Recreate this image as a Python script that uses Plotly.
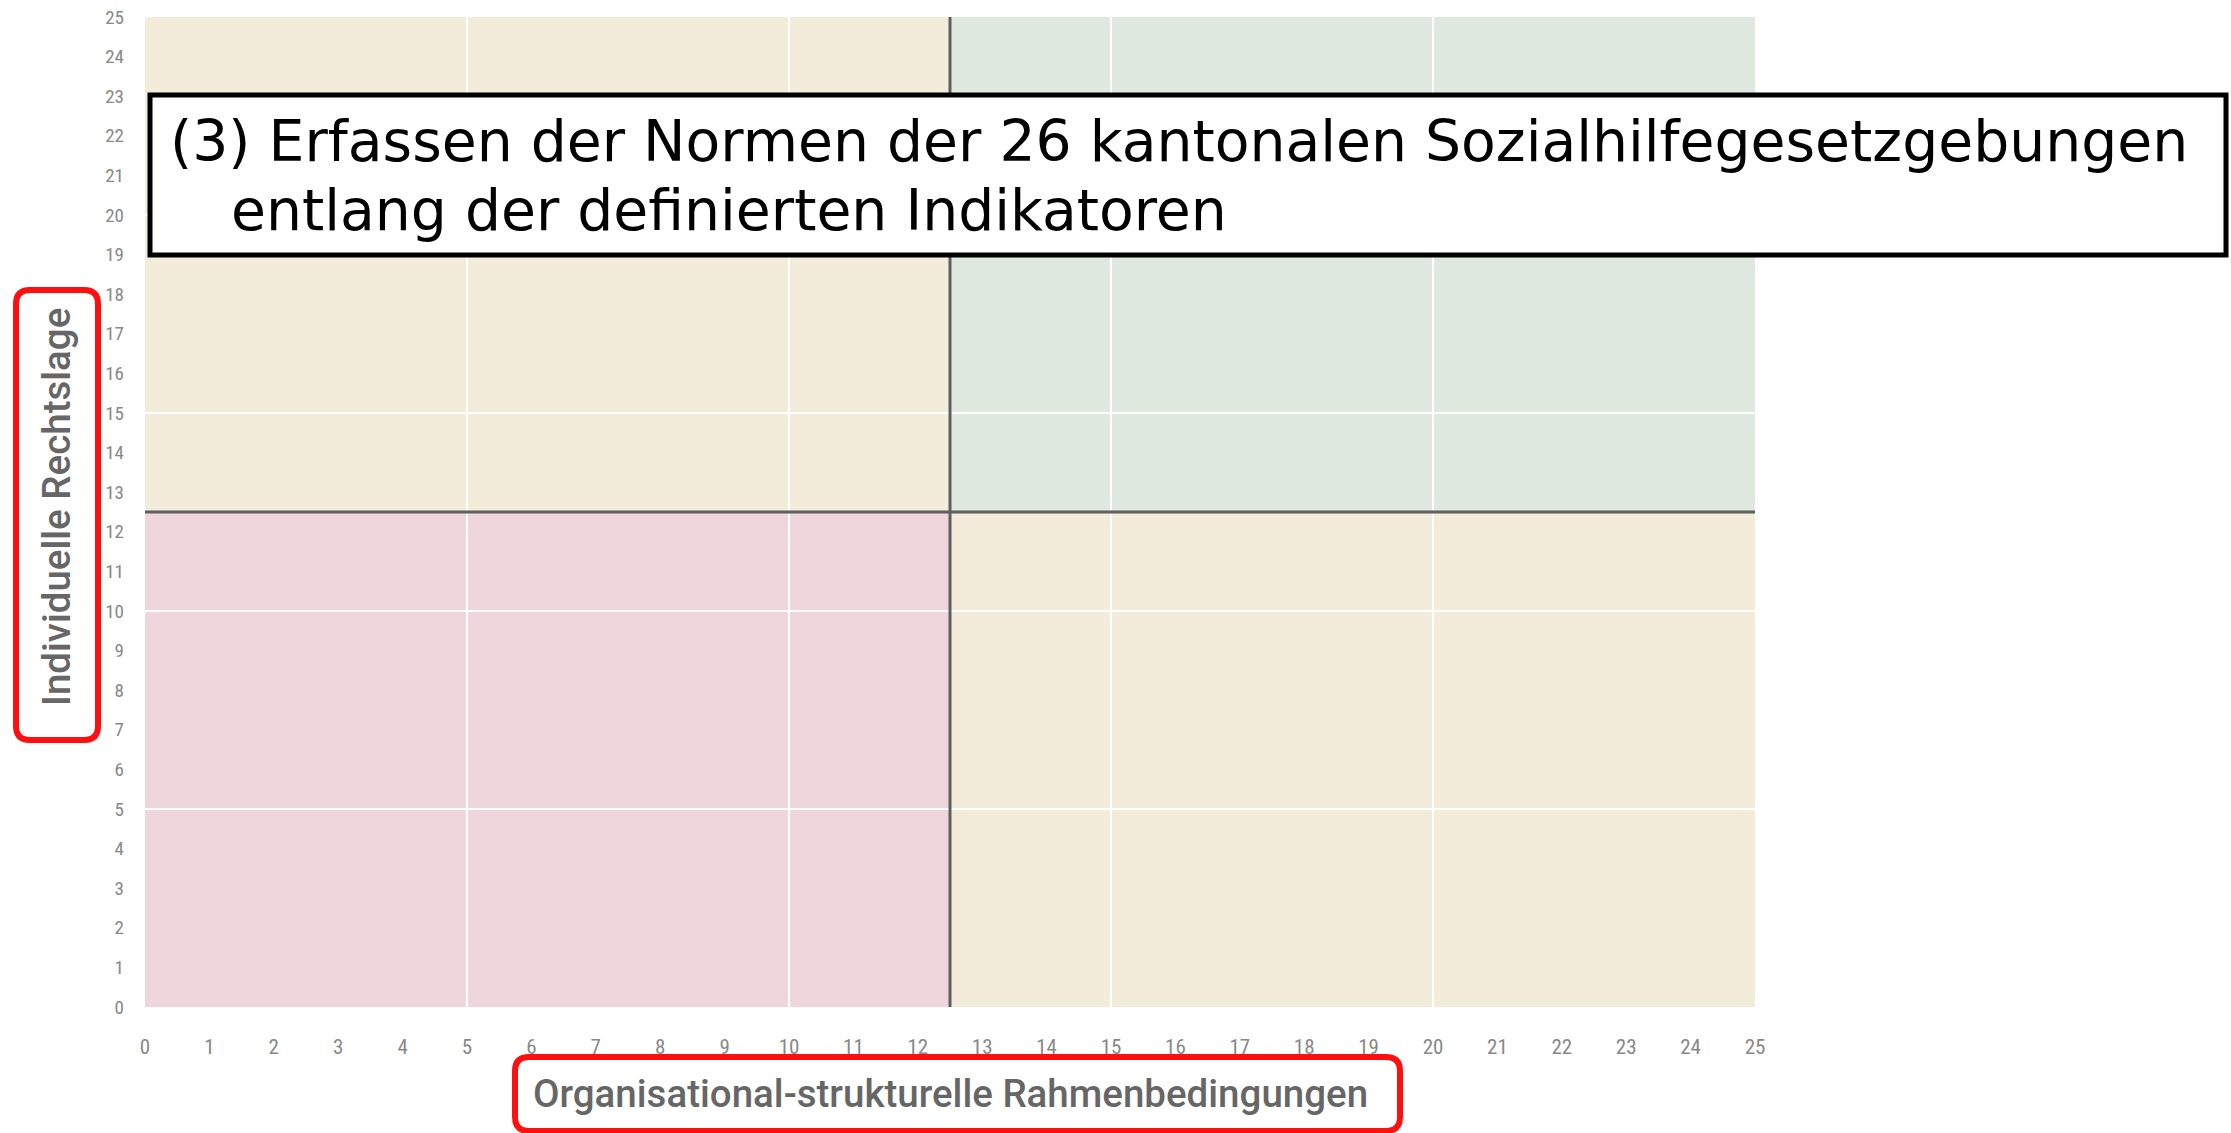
import plotly.graph_objects as go

# ---- data ----
x_ticks = list(range(0, 26))
y_ticks = list(range(0, 26))
grid_values = [5, 10, 15, 20]
axis_min = 0
axis_max = 25
split = 12.5
quadrants = [  # (x0, x1, y0, y1, color)
    (0, 12.5, 12.5, 25, "#F4ECDA"),
    (12.5, 25, 12.5, 25, "#DFE9DF"),
    (0, 12.5, 0, 12.5, "#EED6DC"),
    (12.5, 25, 0, 12.5, "#F4ECDA"),
]
title_line1 = "(3) Erfassen der Normen der 26 kantonalen Sozialhilfegesetzgebungen"
title_line2 = "entlang der definierten Indikatoren"
x_title = "Organisational-strukturelle Rahmenbedingungen"
y_title = "Individuelle Rechtslage"

# ---- layout geometry (page pixels; body margin is removed) ----
PAGE_W, PAGE_H = 2231, 1133
PLOT_L, PLOT_R, PLOT_T, PLOT_B = 145, 1755, 17, 1007
W, H = PAGE_W, PAGE_H
L, T = PLOT_L, PLOT_T
R, B = PAGE_W - PLOT_R, PAGE_H - PLOT_B
PW, PH = PLOT_R - PLOT_L, PLOT_B - PLOT_T


def px(x):
    return (x - PLOT_L) / PW


def py(y):
    return (PLOT_B - y) / PH


def rounded_rect(x0, y0, x1, y1, r):
    pts = [
        f"M {px(x0 + r)},{py(y0)}",
        f"L {px(x1 - r)},{py(y0)}",
        f"Q {px(x1)},{py(y0)} {px(x1)},{py(y0 + r)}",
        f"L {px(x1)},{py(y1 - r)}",
        f"Q {px(x1)},{py(y1)} {px(x1 - r)},{py(y1)}",
        f"L {px(x0 + r)},{py(y1)}",
        f"Q {px(x0)},{py(y1)} {px(x0)},{py(y1 - r)}",
        f"L {px(x0)},{py(y0 + r)}",
        f"Q {px(x0)},{py(y0)} {px(x0 + r)},{py(y0)}",
        "Z",
    ]
    return " ".join(pts)


fig = go.Figure()
fig.add_trace(go.Scatter(x=[axis_min, axis_max], y=[axis_min, axis_max], mode="markers",
                         marker=dict(opacity=0), hoverinfo="skip", showlegend=False))

shapes = []
for x0, x1, y0, y1, c in quadrants:
    shapes.append(dict(type="rect", xref="x", yref="y", x0=x0, x1=x1, y0=y0, y1=y1,
                       fillcolor=c, line=dict(width=0), layer="below"))
for g in grid_values:
    shapes.append(dict(type="line", xref="x", yref="y", x0=g, x1=g, y0=axis_min, y1=axis_max,
                       line=dict(color="white", width=2), layer="below"))
    shapes.append(dict(type="line", xref="x", yref="y", x0=axis_min, x1=axis_max, y0=g, y1=g,
                       line=dict(color="white", width=2), layer="below"))
shapes.append(dict(type="line", xref="x", yref="y", x0=split, x1=split, y0=axis_min, y1=axis_max,
                   line=dict(color="#5f5f5f", width=3), layer="above"))
shapes.append(dict(type="line", xref="x", yref="y", x0=axis_min, x1=axis_max, y0=split, y1=split,
                   line=dict(color="#5f5f5f", width=3), layer="above"))

# title box
shapes.append(dict(type="rect", xref="paper", yref="paper", x0=px(150), x1=px(2226), y0=py(95), y1=py(255),
                   fillcolor="white", line=dict(color="black", width=5), layer="above"))
# red axis-title boxes
shapes.append(dict(type="path", xref="paper", yref="paper", path=rounded_rect(515, 1057, 1400, 1131, 14),
                   line=dict(color="#FF1010", width=6), fillcolor="white", layer="above"))
shapes.append(dict(type="path", xref="paper", yref="paper", path=rounded_rect(16, 290, 98, 740, 14),
                   line=dict(color="#FF1010", width=6), fillcolor="white", layer="above"))

title_font = dict(family="DejaVu Sans, Open Sans, sans-serif", size=56.8, color="black")
axis_title_font = dict(family="Roboto, Noto Sans, sans-serif", size=38.5, color="#666666", weight=500)

annotations = [
    dict(text=title_line1, xref="paper", yref="paper", x=px(168), y=py(141), xanchor="left",
         yanchor="middle", showarrow=False, font=title_font),
    dict(text=title_line2, xref="paper", yref="paper", x=px(229), y=py(210), xanchor="left",
         yanchor="middle", showarrow=False, font=title_font),
    dict(text=x_title, xref="x", yref="paper", x=split, y=py(1093), xanchor="center",
         yanchor="middle", showarrow=False, font=axis_title_font),
    dict(text=y_title, xref="paper", yref="paper", x=px(57), y=py(507), xanchor="center",
         yanchor="middle", showarrow=False, textangle=-90, font=axis_title_font),
]

x_tick_font = dict(family="Roboto Condensed, Liberation Sans Narrow, Roboto, sans-serif", size=21, color="#888888")
y_tick_font = dict(family="Roboto Condensed, Liberation Sans Narrow, Roboto, sans-serif", size=19, color="#888888")

fig.update_layout(
    width=W, height=H, autosize=False,
    margin=dict(l=L, r=R, t=T, b=B, pad=0),
    plot_bgcolor="white", paper_bgcolor="white",
    shapes=shapes, annotations=annotations, showlegend=False,
    xaxis=dict(range=[axis_min, axis_max], tickvals=x_ticks, ticktext=[str(v) for v in x_ticks],
               showgrid=False, zeroline=False, showline=False, ticks="", ticklabelstandoff=25,
               tickfont=x_tick_font, fixedrange=True, ticklabeloverflow="allow", automargin=False),
    yaxis=dict(range=[axis_min, axis_max], tickvals=y_ticks, ticktext=[str(v) for v in y_ticks],
               showgrid=False, zeroline=False, showline=False, ticks="", ticklabelstandoff=20,
               tickfont=y_tick_font, fixedrange=True, ticklabeloverflow="allow", automargin=False),
)

fig.write_html("out.html", config={"displayModeBar": False},
               post_script="document.body.style.margin='0';document.body.style.overflow='hidden';")
